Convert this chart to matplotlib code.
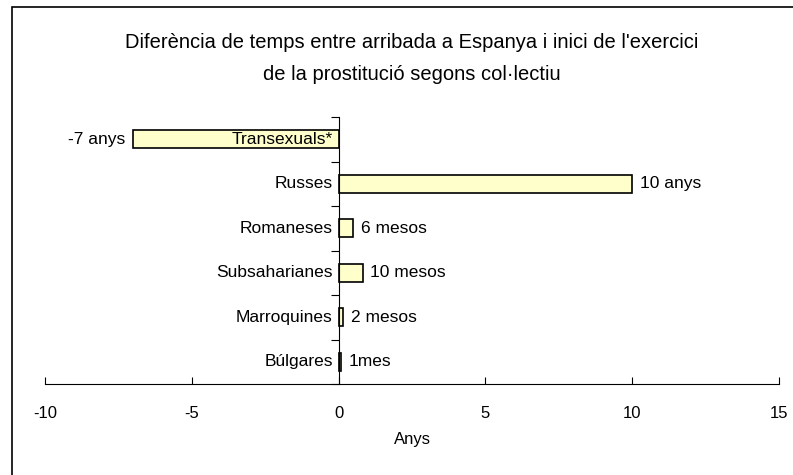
import matplotlib.pyplot as plt
from matplotlib.patches import Rectangle

plt.rcParams['font.family'] = ['Liberation Sans', 'DejaVu Sans']

categories = ["Búlgares", "Marroquines", "Subsaharianes", "Romaneses", "Russes", "Transexuals*"]
values = [1 / 12, 2 / 12, 10 / 12, 6 / 12, 10, -7]
value_labels = ["1mes", "2 mesos", "10 mesos", "6 mesos", "10 anys", "-7 anys"]
xticks = [-10, -5, 0, 5, 10, 15]

fig = plt.figure(figsize=(7.93, 4.75), dpi=100)
ax = fig.add_axes([45 / 793, 1 - 384 / 475, 734 / 793, 267 / 475])

y = range(len(categories))
ax.barh(y, values, height=0.4, color="#FFFFCC", edgecolor="black", linewidth=1.2)

ax.set_xlim(-10, 15)
ax.set_ylim(-0.5, len(categories) - 0.5)
ax.set_xticks(xticks)
ax.set_xticklabels([str(t) for t in xticks], fontsize=12)
ax.tick_params(axis="x", direction="in", length=5, pad=16)

ax.set_yticks([i - 0.5 for i in range(len(categories) + 1)])
ax.set_yticklabels([])
ax.tick_params(axis="y", direction="out", length=6)

ax.spines["left"].set_position(("data", 0))
ax.spines["top"].set_visible(False)
ax.spines["right"].set_visible(False)

for i, cat in enumerate(categories):
    ax.text(-0.2, i, cat, ha="right", va="center", fontsize=12.5)

for i, (v, lab) in enumerate(zip(values, value_labels)):
    if v < 0:
        ax.text(v - 0.25, i, lab, ha="right", va="center", fontsize=12.5)
    else:
        ax.text(v + 0.25, i, lab, ha="left", va="center", fontsize=12.5)

ax.set_xlabel("Anys", fontsize=12, labelpad=8)

fig.text(0.519, 1 - 43 / 475, "Diferència de temps entre arribada a Espanya i inici de l'exercici",
         ha="center", va="center", fontsize=14.5)
fig.text(0.519, 1 - 75 / 475, "de la prostitució segons col·lectiu",
         ha="center", va="center", fontsize=14.5)

fig.patches.append(Rectangle((12 / 793, -0.05), 1.1, 1.05 - 7 / 475,
                             transform=fig.transFigure, fill=False,
                             edgecolor="black", linewidth=1.2))

fig.savefig("out.png", dpi=100)
